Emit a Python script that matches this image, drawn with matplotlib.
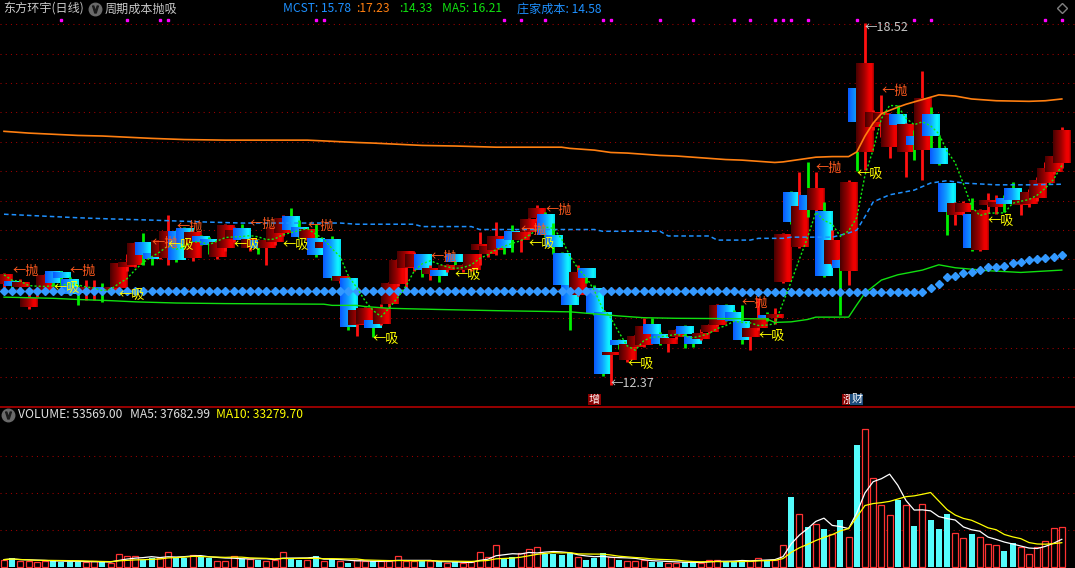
import numpy as np
import pandas as pd
import matplotlib
matplotlib.use('Agg')
import matplotlib.pyplot as plt
from matplotlib.colors import LinearSegmentedColormap

plt.rcParams['font.family'] = ['Noto Sans CJK SC', 'DejaVu Sans']

W, H = 1075, 568

# ---- daily bars ----
opens = [14.08, 14.12, 14.03, 13.69, 13.95, 13.98, 14.29, 14.28, 14.17, 14.03,
         13.97, 13.96, 14.02, 13.97, 14.01, 14.38, 14.41, 14.80, 14.60, 14.55,
         14.52, 14.97, 15.03, 14.52, 14.89, 14.85, 14.55, 14.69, 14.85, 15.03,
         14.69, 14.83, 14.70, 14.80, 14.95, 15.23, 15.05, 14.86, 14.86, 14.69,
         14.83, 14.13, 14.18, 13.38, 13.40, 13.45, 13.40, 13.75, 14.09, 14.35,
         14.38, 14.59, 14.25, 14.32, 14.32, 14.58, 14.32, 14.32, 14.66, 14.60,
         14.66, 14.83, 14.97, 14.83, 14.96, 15.20, 15.27, 14.92, 14.60, 14.07,
         13.90, 14.34, 14.01, 13.61, 12.88, 13.12, 12.79, 13.02, 13.05, 13.40,
         13.24, 13.06, 13.19, 13.37, 13.19, 13.14, 13.27, 13.39, 13.72, 13.60,
         13.44, 13.19, 13.33, 13.55, 13.50, 14.12, 15.64, 14.72, 15.60, 15.34,
         15.31, 14.43, 14.48, 14.31, 17.40, 16.33, 16.75, 16.84, 16.41, 16.97,
         16.32, 16.60, 16.36, 16.97, 16.39, 15.79, 15.26, 15.30, 15.26, 14.67,
         15.43, 15.40, 15.55, 15.70, 15.43, 15.45, 15.55, 15.80, 15.99, 16.14]
closes = [14.24, 14.05, 14.10, 13.84, 14.00, 14.22, 14.10, 14.18, 13.92, 13.93,
          14.03, 14.02, 13.95, 14.03, 14.42, 14.45, 14.78, 14.58, 14.50, 14.83,
          14.97, 14.49, 14.77, 14.95, 14.80, 14.75, 14.80, 15.07, 15.00, 14.83,
          14.83, 14.70, 14.83, 15.05, 15.20, 15.00, 14.88, 15.00, 14.58, 14.78,
          14.18, 14.20, 13.35, 13.62, 13.67, 13.33, 13.67, 14.10, 14.49, 14.63,
          14.60, 14.32, 14.35, 14.22, 14.39, 14.46, 14.40, 14.58, 14.75, 14.72,
          14.89, 14.69, 14.83, 14.96, 15.18, 15.37, 14.92, 14.72, 14.07, 13.73,
          14.29, 14.18, 13.58, 12.56, 12.92, 13.05, 13.05, 13.20, 13.37, 13.23,
          13.07, 13.16, 13.30, 13.24, 13.07, 13.23, 13.38, 13.72, 13.47, 13.45,
          13.13, 13.34, 13.50, 13.50, 13.56, 14.92, 15.14, 15.41, 15.35, 15.70,
          14.22, 14.83, 14.36, 15.82, 16.83, 17.84, 17.00, 16.99, 16.94, 16.79,
          16.79, 16.45, 17.24, 16.60, 16.12, 15.31, 15.45, 15.45, 14.69, 15.34,
          15.50, 15.48, 15.45, 15.51, 15.51, 15.65, 15.85, 16.05, 16.25, 16.70]
highs = [14.27, 14.15, 14.17, 14.02, 14.06, 14.25, 14.30, 14.30, 14.20, 14.06,
         14.15, 14.15, 14.10, 14.08, 14.44, 14.60, 14.80, 14.95, 14.62, 14.86,
         15.26, 15.00, 15.05, 14.98, 14.92, 14.88, 14.83, 15.10, 15.05, 15.10,
         14.86, 14.85, 14.85, 15.10, 15.25, 15.37, 15.17, 15.02, 15.10, 14.80,
         14.90, 14.22, 14.20, 13.65, 13.70, 13.47, 13.75, 14.12, 14.50, 14.65,
         14.62, 14.60, 14.40, 14.35, 14.42, 14.60, 14.42, 14.60, 14.97, 14.78,
         15.14, 14.86, 15.09, 14.98, 15.20, 15.43, 15.30, 15.12, 14.62, 14.10,
         14.40, 14.36, 14.07, 13.63, 12.93, 13.14, 13.07, 13.22, 13.50, 13.50,
         13.26, 13.17, 13.32, 13.38, 13.20, 13.31, 13.40, 13.75, 13.74, 13.64,
         13.72, 13.36, 13.84, 13.60, 13.68, 14.95, 15.66, 15.99, 16.16, 15.99,
         15.48, 15.00, 14.50, 15.85, 17.42, 18.52, 17.05, 17.30, 16.97, 17.13,
         16.82, 16.70, 17.70, 17.09, 16.60, 15.80, 15.47, 15.50, 15.55, 15.36,
         15.63, 15.60, 15.60, 15.82, 15.53, 15.70, 15.90, 16.16, 16.28, 16.75]
lows = [14.02, 13.98, 13.98, 13.66, 13.86, 13.95, 14.05, 14.08, 13.90, 13.73,
        13.81, 13.81, 13.78, 13.95, 13.98, 14.30, 14.38, 14.41, 14.41, 14.50,
        14.41, 14.45, 14.70, 14.48, 14.75, 14.60, 14.50, 14.65, 14.80, 14.80,
        14.65, 14.60, 14.41, 14.75, 14.90, 14.98, 14.86, 14.84, 14.55, 14.65,
        14.15, 14.10, 13.30, 13.20, 13.35, 13.19, 13.38, 13.70, 14.05, 14.01,
        14.30, 14.20, 14.15, 14.12, 14.28, 14.40, 14.28, 14.30, 14.41, 14.55,
        14.58, 14.60, 14.63, 14.63, 14.90, 15.15, 14.88, 14.60, 14.00, 13.30,
        13.88, 14.10, 13.55, 12.52, 12.37, 12.98, 12.75, 13.00, 13.02, 13.20,
        13.05, 12.92, 13.15, 13.00, 13.02, 13.13, 13.25, 13.37, 13.45, 13.33,
        13.07, 12.96, 13.30, 13.45, 13.41, 14.10, 15.10, 14.70, 15.23, 15.30,
        14.20, 14.40, 13.56, 14.07, 16.00, 16.02, 16.70, 16.59, 16.22, 16.36,
        15.91, 16.20, 15.85, 16.19, 16.10, 14.92, 15.09, 15.25, 14.65, 14.65,
        15.29, 15.28, 15.30, 15.48, 15.26, 15.40, 15.50, 15.71, 15.95, 16.05]
volume = [10000, 11700, 8500, 8500, 7200, 8500, 8500, 7200, 7200, 7200,
          6300, 8000, 6300, 5900, 18000, 15300, 14400, 10000, 12000, 12000,
          20700, 12600, 12600, 16700, 14400, 12600, 8500, 8500, 15300, 11300,
          10800, 10000, 8500, 9500, 20700, 11300, 10000, 10000, 14400, 7600,
          10800, 7600, 5900, 10000, 7600, 7600, 7600, 7600, 14400, 7600,
          7600, 7600, 7600, 6700, 5900, 6700, 5000, 6300, 20700, 14000,
          30000, 12000, 13000, 18500, 24700, 26500, 18000, 17000, 15800, 19000,
          13000, 10000, 11700, 18500, 13000, 10000, 8500, 8500, 9500, 6300,
          7000, 5900, 5900, 7000, 5900, 5900, 10000, 10000, 7000, 7000,
          10000, 7600, 12600, 9500, 10000, 30000, 94000, 72000, 53500, 58500,
          52000, 45000, 64000, 40000, 165000, 187000, 120600, 84000, 70700, 90000,
          84000, 56000, 85500, 64000, 51000, 71000, 46000, 38700, 45000, 41000,
          31500, 30000, 21000, 32000, 27000, 18000, 27000, 35500, 53000, 53569]

# 庄家成本 (diamond row), one value per day
zj_cost = [13.97, 13.97, 13.97, 13.97, 13.97, 13.97, 13.97, 13.97, 13.97, 13.97,
           13.97, 13.97, 13.97, 13.97, 13.97, 13.97, 13.97, 13.97, 13.97, 13.97,
           13.97, 13.97, 13.97, 13.97, 13.97, 13.97, 13.97, 13.97, 13.97, 13.97,
           13.97, 13.97, 13.97, 13.97, 13.97, 13.97, 13.97, 13.97, 13.97, 13.97,
           13.97, 13.97, 13.97, 13.97, 13.97, 13.96, 13.96, 13.96, 13.96, 13.96,
           13.96, 13.96, 13.96, 13.96, 13.96, 13.96, 13.96, 13.96, 13.96, 13.96,
           13.96, 13.96, 13.96, 13.96, 13.96, 13.96, 13.96, 13.96, 13.96, 13.96,
           13.96, 13.96, 13.96, 13.96, 13.96, 13.96, 13.96, 13.96, 13.96, 13.96,
           13.96, 13.96, 13.96, 13.96, 13.96, 13.96, 13.96, 13.96, 13.96, 13.96,
           13.94, 13.94, 13.94, 13.94, 13.94, 13.94, 13.94, 13.94, 13.94, 13.94,
           13.94, 13.94, 13.94, 13.94, 13.94, 13.94, 13.94, 13.94, 13.94, 13.94,
           13.94, 13.94, 13.94, 14.01, 14.08, 14.20, 14.22, 14.27, 14.29, 14.32,
           14.37, 14.38, 14.39, 14.44, 14.45, 14.49, 14.51, 14.52, 14.55, 14.58]

# MCST lines, read at sample days
orange_d = [0, 2, 3, 6, 9, 12, 15, 18, 22, 27, 37, 40, 43, 45, 48, 51, 55, 60, 68,
            69, 71, 72, 73, 74, 76, 78, 80, 82, 84, 86, 88, 90, 92, 94, 95, 96, 97,
            99, 101, 103, 104, 105, 106, 107, 109, 110, 112, 114, 116, 118, 121,
            125, 127, 129]
orange_v = [16.68, 16.66, 16.65, 16.63, 16.61, 16.60, 16.58, 16.56, 16.54, 16.53,
            16.53, 16.51, 16.49, 16.48, 16.46, 16.44, 16.43, 16.41, 16.41, 16.39,
            16.37, 16.36, 16.34, 16.32, 16.31, 16.29, 16.27, 16.26, 16.24, 16.22,
            16.20, 16.19, 16.17, 16.15, 16.16, 16.18, 16.20, 16.24, 16.25, 16.25,
            16.33, 16.60, 16.82, 16.98, 17.09, 17.14, 17.22, 17.30, 17.28, 17.23,
            17.20, 17.19, 17.20, 17.23]
blue_d = [0, 3, 6, 9, 13, 18, 24, 29, 41, 43, 50, 51, 57, 58, 72, 73, 80, 81, 86,
          87, 91, 92, 95, 96, 101, 103, 104, 105, 106, 108, 111, 113, 115, 117,
          121, 125, 129]
blue_v = [15.27, 15.25, 15.23, 15.21, 15.19, 15.17, 15.14, 15.12, 15.12, 15.10,
          15.10, 15.06, 15.06, 15.01, 15.01, 14.98, 14.98, 14.90, 14.90, 14.83,
          14.83, 14.86, 14.86, 14.88, 14.88, 14.95, 15.00, 15.23, 15.48, 15.60,
          15.68, 15.80, 15.84, 15.80, 15.77, 15.77, 15.78]
green_d = [0, 6, 9, 13, 16, 21, 27, 39, 40, 43, 44, 47, 53, 60, 69, 75, 78, 82, 93,
           94, 96, 98, 99, 103, 104, 105, 106, 107, 109, 112, 114, 116, 120, 124, 129]
green_v = [13.86, 13.84, 13.82, 13.80, 13.78, 13.76, 13.75, 13.74, 13.72, 13.72,
           13.70, 13.67, 13.65, 13.63, 13.61, 13.54, 13.51, 13.50, 13.49, 13.43,
           13.44, 13.48, 13.52, 13.52, 13.73, 13.93, 14.04, 14.15, 14.24, 14.32,
           14.41, 14.36, 14.31, 14.28, 14.32]

# signal labels
sell_days = [1, 8, 18, 21, 30, 37, 52, 63, 66, 90, 99, 107]
sell_px = [14.29, 14.30, 14.78, 15.04, 15.10, 15.07, 14.53, 15.00, 15.33, 13.76, 16.04, 17.36]
buy_days = [6, 14, 20, 28, 34, 45, 55, 64, 76, 92, 104, 120]
buy_px = [14.02, 13.90, 14.75, 14.75, 14.76, 13.15, 14.24, 14.77, 12.73, 13.20, 15.97, 15.16]
top_dots = [7, 15, 19, 20, 38, 39, 61, 63, 66, 73, 74, 80, 84, 89, 91, 94, 95, 96, 98,
            104, 111, 113, 127, 129]

o = np.array(opens); c = np.array(closes); hi = np.array(highs); lo = np.array(lows)
vol = np.array(volume, dtype=float)
days = np.arange(len(o))
up = c >= o
ma5 = pd.Series(c).rolling(5, min_periods=1).mean()
vma5 = pd.Series(vol).rolling(5, min_periods=1).mean()
vma10 = pd.Series(vol).rolling(10, min_periods=1).mean()

# pixel scale of the original: day i at x = 4 + 8.2 i, 58.8 px per yuan
xlim = (-4 / 8.2, (W - 4) / 8.2)
ylim = (18.5 - (406 - 24.3) / 58.8, 18.5 + 24.3 / 58.8)

fig = plt.figure(figsize=(W / 100, H / 100), dpi=100, facecolor='black')
ax = fig.add_axes([0, (H - 406) / H, 1, 406 / H])
axv = fig.add_axes([0, 0, 1, (H - 407) / H])
for a in (ax, axv):
    a.set_facecolor('black')
    a.set_axis_off()

grid_kw = dict(color='#A00000', lw=0.75, ls=(0, (1, 4)), zorder=0)
for p in np.arange(12.5, 18.51, 0.5):
    ax.axhline(p, **grid_kw)

# candle bodies are shaded left -> right
red_cm = LinearSegmentedColormap.from_list('r', [(0, '#4a0000'), (0.45, '#a00000'),
                                                 (0.75, '#ee0000'), (0.9, '#f00000'),
                                                 (1, '#a00000')])
cyan_cm = LinearSegmentedColormap.from_list('c', [(0, '#0a5aff'), (0.45, '#109cff'),
                                                  (0.85, '#10f8ff'), (1, '#00e0f4')])
grad = np.linspace(0, 1, 32)
red_img = red_cm(grad)[None, :, :]
cyan_img = cyan_cm(grad)[None, :, :]

bw = 2.1
for i in days:
    z = 2 + 0.002 * i
    ax.vlines(i, lo[i], hi[i], color='#ff1010' if up[i] else '#00f000', lw=2.0, zorder=z)
    b0, b1 = min(o[i], c[i]), max(o[i], c[i])
    if b1 - b0 < 0.035:
        b1 = b0 + 0.035
    ax.imshow(red_img if up[i] else cyan_img, extent=[i - bw / 2, i + bw / 2, b0, b1],
              aspect='auto', interpolation='bilinear', zorder=z + 0.001)

ax.plot(orange_d, orange_v, color='#ff7f10', lw=1.2, zorder=5)
ax.plot(blue_d, blue_v, color='#1e90ff', lw=1.1, ls=(0, (3, 2)), zorder=5)
ax.plot(green_d, green_v, color='#10e010', lw=1.0, zorder=5)
ax.plot(days, zj_cost, ls='none', marker='D', ms=4.2, color='#3399ff', zorder=5)
ax.plot(days, ma5, color='#10f010', lw=1.0, ls=(0, (1.5, 1.5)), zorder=6)
ax.plot(top_dots, [18.57] * len(top_dots), ls='none', marker='s', ms=1.8,
        color='#ff00ff', zorder=6)

for d, p in zip(sell_days, sell_px):
    ax.text(d, p, '←抛', color='#ff5a1e', fontsize=9.5, va='center', ha='left', zorder=8)
for d, p in zip(buy_days, buy_px):
    ax.text(d, p, '←吸', color='#ffff00', fontsize=9.5, va='center', ha='left', zorder=8)

imax, imin = int(np.argmax(hi)), int(np.argmin(lo))
ax.text(imax, hi[imax] - 0.08, '←%.2f' % hi[imax], color='#c8c8c8', fontsize=9,
        va='center', ha='left', zorder=8)
ax.text(imin, lo[imin] + 0.02, '←%.2f' % lo[imin], color='#c8c8c8', fontsize=9,
        va='center', ha='left', zorder=8)

ax.text(72, 12.12, '增', color='white', fontsize=8, va='center', ha='center', zorder=9,
        bbox=dict(facecolor='#8b0000', edgecolor='none', pad=0.6))
ax.text(103, 12.12, '涨', color='white', fontsize=8, va='center', ha='center', zorder=9,
        bbox=dict(facecolor='#8b0000', edgecolor='none', pad=0.6))
ax.text(104, 12.12, '财', color='white', fontsize=8, va='center', ha='center', zorder=9,
        bbox=dict(facecolor='#1c4c7c', edgecolor='none', pad=0.6))

ax.set_xlim(xlim)
ax.set_ylim(ylim)

# volume panel
for v in (50000, 100000, 150000):
    axv.axhline(v, **grid_kw)
axv.bar(days[~up], vol[~up], width=0.74, color='#54fcfc', zorder=2)
axv.bar(days[up], vol[up], width=0.74, facecolor='black', edgecolor='#ff3232',
        lw=0.9, zorder=2)
axv.plot(days, vma5, color='white', lw=0.9, zorder=3)
axv.plot(days, vma10, color='#ffff00', lw=0.9, zorder=3)
axv.set_xlim(xlim)
axv.set_ylim(-1351, 216216)

# separator line between panels
fig.add_artist(plt.Line2D([0, 1], [(H - 406.5) / H] * 2, color='#c00000', lw=1.1))

def ftext(x, y, s, color, size=8.7):
    fig.text(x / W, 1 - y / H, s, color=color, fontsize=size, va='center', ha='left')

def icon(x, y):
    fig.add_artist(plt.Line2D([x / W], [1 - y / H], marker='o', ms=9,
                              color='#6a6a6a', ls='none'))
    fig.add_artist(plt.Line2D([x / W], [1 - y / H], marker='$\\vee$', ms=5,
                              color='#1a1a1a', ls='none'))

ftext(3, 9, '东方环宇(日线)', '#c8c8c8')
icon(95, 9)
ftext(105, 9, '周期成本抛吸', '#c8c8c8')
ftext(283, 9, 'MCST: 15.78', '#1e90ff')
ftext(356, 9, ':17.23', '#ff7f10')
ftext(399, 9, ':14.33', '#10e010')
ftext(442, 9, 'MA5: 16.21', '#10e010')
ftext(517, 9, '庄家成本: 14.58', '#1e90ff')
fig.add_artist(plt.Line2D([1062 / W], [1 - 8 / H], marker='D', ms=5, mfc='none',
                          mec='#808080', ls='none'))

icon(8, 415)
ftext(18, 415, 'VOLUME: 53569.00', '#e0e0e0')
ftext(130, 415, 'MA5: 37682.99', '#e0e0e0')
ftext(216, 415, 'MA10: 33279.70', '#ffff00')

fig.savefig('out.png', dpi=100, facecolor='black')
